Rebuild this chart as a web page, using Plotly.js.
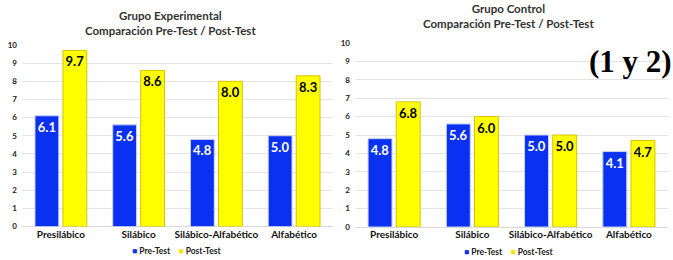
<!DOCTYPE html>
<html><head><meta charset="utf-8">
<script src="https://cdn.plot.ly/plotly-3.0.1.min.js"></script>
<style>html,body{margin:0;padding:0;background:#fff}</style>
</head><body><div id="chart" style="width:673px;height:260px"></div>
<script>
const categories = ["Presilábico", "Silábico", "Silábico-Alfabético", "Alfabético"];
const expPre  = [6.1, 5.6, 4.8, 5.0];
const expPost = [9.7, 8.6, 8.0, 8.3];
const ctlPre  = [4.8, 5.6, 5.0, 4.1];
const ctlPost = [6.8, 6.0, 5.0, 4.7];
const seriesNames = ["Pre-Test", "Post-Test"];
const yTicks = [0,1,2,3,4,5,6,7,8,9,10];

const BLUE = '#0A30F2', YELLOW = '#FFFF00';
const FONT = 'Lato, "Noto Sans", sans-serif';

function bar(vals, name, color, line, txtColor, xa, ya) {
  return {
    type: 'bar', x: categories, y: vals, name: name, xaxis: xa, yaxis: ya,
    marker: {color: color, line: {color: line, width: 1}},
    text: vals.map(v => v.toFixed(1)), textposition: 'inside', insidetextanchor: 'end',
    textangle: 0, constraintext: 'none',
    textfont: {family: FONT, size: 13, color: txtColor, weight: 'bold'},
    showlegend: false, hoverinfo: 'skip', cliponaxis: false
  };
}
const data = [
  bar(expPre, seriesNames[0], BLUE, '#c8d0f0', '#ffffff', 'x', 'y'),
  bar(expPost, seriesNames[1], YELLOW, '#d9c200', '#000000', 'x', 'y'),
  bar(ctlPre, seriesNames[0], BLUE, '#c8d0f0', '#ffffff', 'x2', 'y2'),
  bar(ctlPost, seriesNames[1], YELLOW, '#d9c200', '#000000', 'x2', 'y2')
];
const W = 673, H = 260;
function yax(top, bottom) {
  return {
    domain: [1 - bottom / H, 1 - top / H], range: [0, 10], tickvals: yTicks,
    showgrid: true, gridcolor: '#e4e4e4', gridwidth: 1, zeroline: true, zerolinecolor: '#d9d9d9',
    showline: false, ticks: '', ticklabelstandoff: 4,
    tickfont: {family: FONT, size: 8, color: '#222', weight: 'bold'}, fixedrange: true
  };
}
function xax(left, right, anchor) {
  return {
    domain: [left / W, right / W], anchor: anchor, showline: false, ticks: '',
    tickfont: {family: FONT, size: 10, color: '#111', weight: 'bold'}, fixedrange: true
  };
}
const legendText = '<span style="color:' + BLUE + '">■</span> ' + seriesNames[0] +
  '    <span style="color:#FFE600">■</span> ' + seriesNames[1];
const titleFont = {family: FONT, size: 11.5, color: '#333', weight: 'bold'};
const layout = {
  width: W, height: H, margin: {l: 0, r: 0, t: 0, b: 0},
  paper_bgcolor: '#fff', plot_bgcolor: '#fff',
  barmode: 'group', bargap: 0.28, bargroupgap: 0.15,
  xaxis: xax(22, 333, 'y'), yaxis: yax(45, 226.5),
  xaxis2: xax(355, 668, 'y2'), yaxis2: Object.assign(yax(43, 227), {anchor: 'x2'}),
  annotations: [
    {text: 'Grupo Experimental<br>Comparación Pre-Test / Post-Test', xref: 'paper', yref: 'paper',
     x: 170 / W, xanchor: 'center', y: 1 - 23 / H, yanchor: 'middle', showarrow: false, font: titleFont, align: 'center'},
    {text: 'Grupo Control<br>Comparación Pre-Test / Post-Test', xref: 'paper', yref: 'paper',
     x: 508 / W, xanchor: 'center', y: 1 - 16 / H, yanchor: 'middle', showarrow: false, font: titleFont, align: 'center'},
    {text: legendText, xref: 'paper', yref: 'paper', x: 176 / W, xanchor: 'center', y: 1 - 251 / H, yanchor: 'middle',
     showarrow: false, font: {family: FONT, size: 8.5, color: '#222', weight: 'bold'}},
    {text: legendText, xref: 'paper', yref: 'paper', x: 508 / W, xanchor: 'center', y: 1 - 252 / H, yanchor: 'middle',
     showarrow: false, font: {family: FONT, size: 8.5, color: '#222', weight: 'bold'}},
    {text: '(1 y 2)', xref: 'paper', yref: 'paper', x: 1, xanchor: 'right', y: 1 - 61 / H,
     yanchor: 'middle', showarrow: false, borderpad: 0,
     font: {family: '"Liberation Serif", "Times New Roman", serif', size: 31, color: '#000', weight: 'bold'}}
  ]
};
Plotly.newPlot('chart', data, layout, {displayModeBar: false, staticPlot: true});
</script></body></html>
